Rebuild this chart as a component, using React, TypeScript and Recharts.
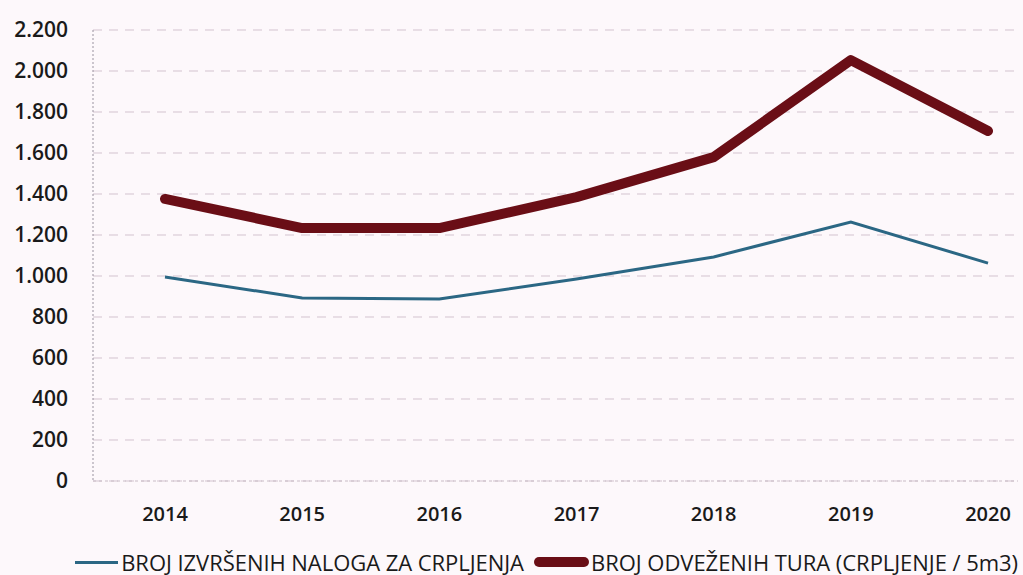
import React from "react";
import {
  LineChart,
  Line,
  XAxis,
  YAxis,
  CartesianGrid,
  Legend,
} from "recharts";

const years = ["2014", "2015", "2016", "2017", "2018", "2019", "2020"];
const nalozi = [995, 893, 888, 985, 1093, 1263, 1063];
const ture = [1376, 1234, 1234, 1385, 1580, 2053, 1707];
const yTicks = [0, 200, 400, 600, 800, 1000, 1200, 1400, 1600, 1800, 2000, 2200];

const NALOZI_NAME = "BROJ IZVRŠENIH NALOGA ZA CRPLJENJA";
const TURE_NAME = "BROJ ODVEŽENIH TURA (CRPLJENJE / 5m3)";

const data = years.map((year, i) => ({ year, nalozi: nalozi[i], ture: ture[i] }));

const BLUE = "#2b6784";
const RED = "#6a0e16";
const FONT = "'Open Sans', 'DejaVu Sans', sans-serif";

const fmt = (v: number) => v.toLocaleString("de-DE");

function LegendRow() {
  return (
    <div
      style={{
        display: "flex",
        alignItems: "center",
        fontFamily: FONT,
        fontSize: 22,
        color: "#1a1a1a",
        letterSpacing: -0.05,
        whiteSpace: "nowrap",
        paddingLeft: 75,
        height: 26,
      }}
    >
      <span style={{ display: "inline-block", width: 47, height: 3, background: BLUE, marginRight: 3 }} />
      <span>{NALOZI_NAME}</span>
      <span
        style={{
          display: "inline-block",
          width: 60,
          height: 10,
          borderRadius: 5,
          background: RED,
          marginLeft: 10,
          marginRight: 2,
        }}
      />
      <span>{TURE_NAME}</span>
    </div>
  );
}

export default function App() {
  return (
    <div style={{ position: "absolute", left: 0, top: 0, width: 1023, height: 575, background: "#fdf8fb" }}>
      <LineChart
        width={1023}
        height={575}
        data={data}
        margin={{ top: 30, right: 5, left: 0, bottom: 0 }}
      >
        <CartesianGrid
          vertical={false}
          stroke="#d3c3cf"
          strokeDasharray="9 7"
        />
        <XAxis
          dataKey="year"
          padding={{ left: 72, right: 30 }}
          axisLine={{ stroke: "#c9bcc6", strokeDasharray: "3 3" }}
          tickLine={false}
          tickMargin={20}
          height={68}
          tick={{ fontSize: 20, fill: "#1a1a1a", fontFamily: FONT, fontWeight: 600 }}
        />
        <YAxis
          width={93}
          domain={[0, 2200]}
          ticks={yTicks}
          interval={0}
          tickFormatter={fmt}
          axisLine={{ stroke: "#9a93a0", strokeDasharray: "2 2" }}
          tickLine={false}
          tickSize={0}
          tickMargin={25}
          tick={{ fontSize: 21, fill: "#1a1a1a", fontFamily: FONT, fontWeight: 600 }}
        />
        <Legend verticalAlign="bottom" align="left" content={() => <LegendRow />} wrapperStyle={{ left: 0, bottom: 0 }} />
        <Line
          type="linear"
          dataKey="nalozi"
          name={NALOZI_NAME}
          stroke={BLUE}
          strokeWidth={3}
          dot={false}
          isAnimationActive={false}
        />
        <Line
          type="linear"
          dataKey="ture"
          name={TURE_NAME}
          stroke={RED}
          strokeWidth={10}
          strokeLinecap="round"
          strokeLinejoin="round"
          dot={false}
          isAnimationActive={false}
        />
      </LineChart>
    </div>
  );
}
